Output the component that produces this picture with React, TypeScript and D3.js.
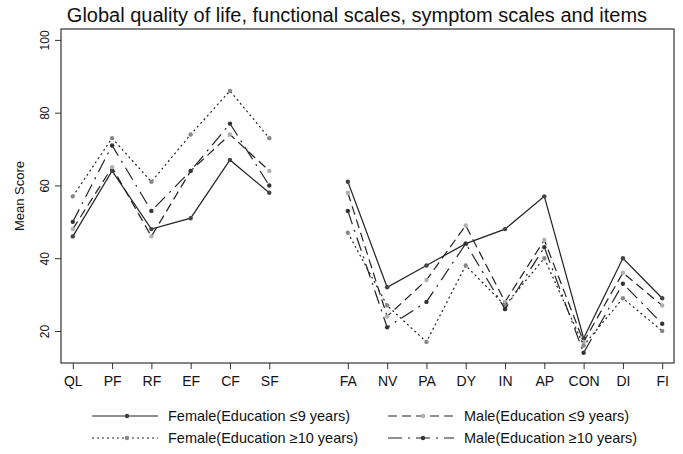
import React, { useEffect, useRef } from 'react';
import * as d3 from 'd3';

const categories = ['QL', 'PF', 'RF', 'EF', 'CF', 'SF', 'FA', 'NV', 'PA', 'DY', 'IN', 'AP', 'CON', 'DI', 'FI'];
const femaleLow = [46, 64, 48, 51, 67, 58, 61, 32, 38, 44, 48, 57, 18, 40, 29];
const maleLow = [48, 65, 46, 64, 74, 64, 58, 24, 34, 49, 28, 45, 17, 36, 27];
const femaleHigh = [57, 73, 61, 74, 86, 73, 47, 27, 17, 38, 27, 40, 16, 29, 20];
const maleHigh = [50, 71, 53, 64, 77, 60, 53, 21, 28, 44, 26, 43, 14, 33, 22];
const yTicks = [20, 40, 60, 80, 100];
const seriesNames = [
  'Female(Education \u22649 years)',
  'Male(Education \u22649 years)',
  'Female(Education \u226510 years)',
  'Male(Education \u226510 years)',
];

const W = 683;
const H = 454;
const FONT = '"Liberation Sans", Arial, sans-serif';

export default function App() {
  const ref = useRef<SVGSVGElement>(null);

  useEffect(() => {
    const svg = d3.select(ref.current);
    svg.selectAll('*').remove();

    const left = 61, right = 674, top = 29, bottom = 363;
    // 6 functional scales, a gap, then 9 symptom items
    const pos = (i: number) => (i < 6 ? i + 1 : i + 2);
    const x = d3.scaleLinear().domain([0.7, 16.3]).range([left, right]);
    const y = d3.scaleLinear().domain([11.2, 103]).range([bottom, top]);

    const series = [
      { name: seriesNames[0], values: femaleLow, dash: null, marker: '#444' },
      { name: seriesNames[1], values: maleLow, dash: '9,5', marker: '#b0b0b0' },
      { name: seriesNames[2], values: femaleHigh, dash: '2,3', marker: '#888' },
      { name: seriesNames[3], values: maleHigh, dash: '14,6,2,6', marker: '#333' },
    ];

    svg.append('text')
      .attr('x', 357).attr('y', 22)
      .attr('text-anchor', 'middle')
      .attr('font-size', 20)
      .attr('fill', '#111')
      .text('Global quality of life, functional scales, symptom scales and items');

    const g = svg.append('g');
    series.forEach(s => {
      const pts = s.values.map((v, i) => [x(pos(i)), y(v)] as [number, number]);
      const groups = [pts.slice(0, 6), pts.slice(6)];
      groups.forEach(gp => {
        g.append('path')
          .attr('d', d3.line()(gp))
          .attr('fill', 'none')
          .attr('stroke', '#222')
          .attr('stroke-width', 1.2)
          .attr('stroke-dasharray', s.dash);
      });
      g.selectAll(null)
        .data(pts)
        .enter()
          .append('circle')
          .attr('cx', d => d[0])
          .attr('cy', d => d[1])
          .attr('r', 2.2)
          .attr('fill', s.marker);
    });

    // box
    svg.append('rect')
      .attr('x', left).attr('y', top)
      .attr('width', right - left).attr('height', bottom - top)
      .attr('fill', 'none').attr('stroke', '#333').attr('stroke-width', 1.2);

    const xAxis = svg.append('g')
      .attr('transform', `translate(0,${bottom})`)
      .call(d3.axisBottom(x)
        .tickValues(categories.map((c, i) => pos(i)))
        .tickFormat((d, i) => categories[i])
        .tickSize(6)
        .tickPadding(7));
    xAxis.select('.domain').remove();
    xAxis.selectAll('line').attr('stroke', '#333');
    xAxis.selectAll('text').attr('font-size', 14).attr('font-family', FONT).attr('fill', '#111');

    const yAxis = svg.append('g')
      .attr('transform', `translate(${left},0)`)
      .call(d3.axisLeft(y).tickValues(yTicks).tickSize(6));
    yAxis.select('.domain').remove();
    yAxis.selectAll('line').attr('stroke', '#333');
    yAxis.selectAll('text')
      .attr('font-size', 12)
      .attr('font-family', FONT)
      .attr('fill', '#111')
      .attr('x', null).attr('dy', null)
      .attr('text-anchor', 'middle')
      .attr('transform', 'translate(-12,0) rotate(-90)');

    svg.append('text')
      .attr('transform', `translate(24,${(top + bottom) / 2}) rotate(-90)`)
      .attr('text-anchor', 'middle')
      .attr('font-size', 13)
      .attr('fill', '#111')
      .text('Mean Score');

    // legend
    const legendPos = [[92, 421], [388, 421], [92, 443], [388, 443]];
    series.forEach((s, i) => {
      const [lx, ly] = legendPos[i];
      const lg = svg.append('g').attr('transform', `translate(${lx},${ly - 5})`);
      lg.append('line')
        .attr('x1', 0).attr('x2', 66).attr('y1', 0).attr('y2', 0)
        .attr('stroke', '#222').attr('stroke-width', 1.2)
        .attr('stroke-dasharray', s.dash);
      lg.append('circle').attr('cx', 35).attr('cy', 0).attr('r', 2.2).attr('fill', s.marker);
      lg.append('text')
        .attr('x', 76).attr('y', 5)
        .attr('font-size', 14.5)
        .attr('fill', '#111')
        .text(s.name);
    });
  }, []);

  return (
    <svg ref={ref} width={W} height={H}
      style={{ position: 'fixed', top: 0, left: 0, background: '#fff', fontFamily: FONT }} />
  );
}
